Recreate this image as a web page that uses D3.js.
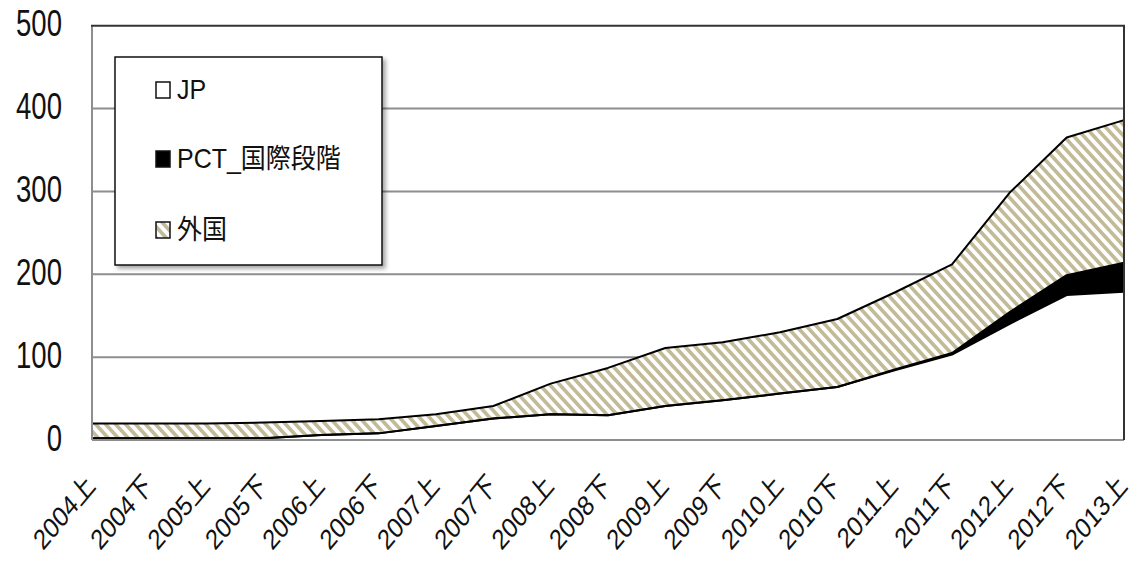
<!DOCTYPE html>
<html>
<head>
<meta charset="utf-8">
<script src="https://cdn.jsdelivr.net/npm/d3@7/dist/d3.min.js"></script>
<style>
  html, body { margin: 0; padding: 0; background: #fff; }
  svg { display: block; }
  text { font-family: "Liberation Sans", "Noto Sans CJK JP", sans-serif; fill: #111; }
</style>
</head>
<body>
<svg id="chart" width="1132" height="564"></svg>
<script>
// Half-year periods (上 = first half, 下 = second half)
const categories = [
  "2004上","2004下","2005上","2005下","2006上","2006下","2007上","2007下",
  "2008上","2008下","2009上","2009下","2010上","2010下","2011上","2011下",
  "2012上","2012下","2013上"
];
// Counts per period, stacked bottom to top: JP, PCT international phase, foreign
const jpValues      = [2, 2, 2, 2, 6, 8, 17, 26, 31, 30, 41, 48, 56, 64, 84, 103, 140, 175, 179];
const pctValues     = [0, 0, 0, 0, 0, 0, 0, 0, 0, 0, 0, 0, 0, 0, 1, 2, 14, 24, 35];
const foreignValues = [18, 18, 18, 19, 17, 17, 14, 15, 37, 57, 70, 70, 74, 82, 93, 107, 144, 166, 172];
const yTicks = [0, 100, 200, 300, 400, 500];
const seriesNames = ["JP", "PCT_国際段階", "外国"];

const rows = categories.map((c, i) => ({
  period: c, JP: jpValues[i], PCT: pctValues[i], FOREIGN: foreignValues[i]
}));
const keys = ["JP", "PCT", "FOREIGN"];

const svg = d3.select("#chart");
const plotLeft = 92, plotRight = 1124, plotTop = 25.7, plotBottom = 440;

const x = d3.scalePoint().domain(categories).range([plotLeft, plotRight]);
const y = d3.scaleLinear().domain([0, 500]).range([plotBottom, plotTop]);

// diagonal hatch for the foreign series
const defs = svg.append("defs");
const pat = defs.append("pattern")
  .attr("id", "hatch").attr("patternUnits", "userSpaceOnUse")
  .attr("width", 10).attr("height", 11);
pat.append("rect").attr("width", 10).attr("height", 11).attr("fill", "#fff");
pat.append("path")
  .attr("d", "M-5,-5.5 L15,16.5 M-15,-5.5 L5,16.5 M5,-5.5 L25,16.5")
  .attr("stroke", "#c3bb97").attr("stroke-width", 3.6);

const shadow = defs.append("filter").attr("id", "shadow")
  .attr("x", "-10%").attr("y", "-10%").attr("width", "130%").attr("height", "130%");
shadow.append("feDropShadow").attr("dx", 3).attr("dy", 3).attr("stdDeviation", 2)
  .attr("flood-color", "#000").attr("flood-opacity", 0.35);

// plot background
svg.append("rect").attr("x", plotLeft).attr("y", plotTop)
  .attr("width", plotRight - plotLeft).attr("height", plotBottom - plotTop).attr("fill", "#fff");

// horizontal gridlines
svg.append("g").selectAll("line").data(yTicks.filter(t => t > 0 && t < 500)).join("line")
  .attr("x1", plotLeft).attr("x2", plotRight)
  .attr("y1", d => y(d)).attr("y2", d => y(d))
  .attr("stroke", "#8e8e8e").attr("stroke-width", 2);

// stacked areas
const stacked = d3.stack().keys(keys)(rows);
const fills = { JP: "#fff", PCT: "#000", FOREIGN: "url(#hatch)" };
const area = d3.area()
  .x(d => x(d.data.period))
  .y0(d => y(d[0]))
  .y1(d => y(d[1]));
const topLine = d3.line()
  .x(d => x(d.data.period))
  .y(d => y(d[1]));

svg.append("g").selectAll("path").data(stacked).join("path")
  .attr("d", area).attr("fill", d => fills[d.key]);

svg.append("g").selectAll("path").data(stacked).join("path")
  .attr("d", topLine).attr("fill", "none")
  .attr("stroke", "#000").attr("stroke-width", 2)
  .attr("stroke-linejoin", "round");

// plot frame
svg.append("line").attr("x1", plotLeft).attr("x2", plotLeft).attr("y1", plotTop).attr("y2", plotBottom)
  .attr("stroke", "#8e8e8e").attr("stroke-width", 2);
svg.append("line").attr("x1", plotLeft).attr("x2", plotRight).attr("y1", plotBottom).attr("y2", plotBottom)
  .attr("stroke", "#8e8e8e").attr("stroke-width", 2);
svg.append("line").attr("x1", plotLeft - 1).attr("x2", plotRight + 1).attr("y1", plotTop).attr("y2", plotTop)
  .attr("stroke", "#333").attr("stroke-width", 2);
svg.append("line").attr("x1", plotRight).attr("x2", plotRight).attr("y1", plotTop).attr("y2", plotBottom)
  .attr("stroke", "#333").attr("stroke-width", 2);

// y axis labels
const yAxis = d3.axisLeft(y).tickValues(yTicks).tickSize(0).tickPadding(0);
const yg = svg.append("g").attr("transform", `translate(${plotLeft},0)`).call(yAxis);
yg.select(".domain").remove();
yg.selectAll(".tick text")
  .attr("x", 0).attr("dy", null)
  .attr("transform", "translate(-30,10) scale(0.95,1.25)")
  .attr("text-anchor", "end")
  .style("font-size", "29px").style("font-family", "'Liberation Sans', sans-serif")
  .attr("fill", "#1a1a1a");

// x axis labels
const xAxis = d3.axisBottom(x).tickSize(0).tickPadding(0);
const xg = svg.append("g").attr("transform", `translate(0,${plotBottom})`).call(xAxis);
xg.select(".domain").remove();
xg.selectAll(".tick text")
  .attr("y", 0).attr("dy", null)
  .attr("transform", "translate(4,47) scale(1,1.2) rotate(-45)")
  .attr("text-anchor", "end")
  .style("font-size", "23.5px").attr("fill", "#1a1a1a");

// legend
const lg = svg.append("g");
lg.append("rect").attr("x", 115).attr("y", 57).attr("width", 267).attr("height", 208)
  .attr("fill", "#fff").attr("stroke", "#111").attr("stroke-width", 1.5)
  .attr("filter", "url(#shadow)");
const legendFills = ["#fff", "#000", "url(#hatch)"];
const legendRows = [99, 168, 239];
seriesNames.forEach((name, i) => {
  const by = legendRows[i];
  lg.append("rect").attr("x", 156).attr("y", by - 17).attr("width", 14).attr("height", 16)
    .attr("fill", legendFills[i]).attr("stroke", "#111").attr("stroke-width", 1.5);
  lg.append("text").attr("transform", `translate(177,${by}) scale(1,1.1)`)
    .style("font-size", "25px").text(name);
});
</script>
</body>
</html>
